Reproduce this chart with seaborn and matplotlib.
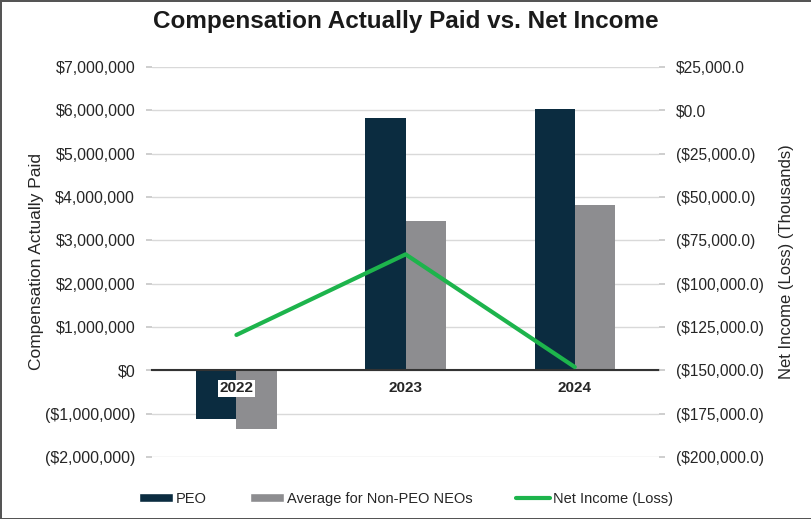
import matplotlib.pyplot as plt
import matplotlib.ticker as mticker
import numpy as np
import pandas as pd
import seaborn as sns
from matplotlib.patches import Patch
from matplotlib.lines import Line2D

# Data
years = ["2022", "2023", "2024"]
peo_cap = [-1130000, 5830000, 6040000]
non_peo_cap = [-1350000, 3450000, 3810000]
net_income = [-129600, -83100, -148100]  # thousands

peo_color = "#0b2c40"
non_peo_color = "#8d8d90"
line_color = "#1db44c"

sns.set_theme(style="white")
plt.rcParams["font.family"] = ["Liberation Sans", "DejaVu Sans"]

df = pd.DataFrame({
    "year": years * 2,
    "group": ["PEO"] * 3 + ["Average for Non-PEO NEOs"] * 3,
    "value": peo_cap + non_peo_cap,
})

fig = plt.figure(figsize=(8.12, 5.19), dpi=100)
fig.patch.set_edgecolor("#555555")
fig.patch.set_linewidth(2)
ax = fig.add_axes([0.187, 0.1195, 0.625, 0.7515])

sns.barplot(
    data=df, x="year", y="value", hue="group",
    palette=[peo_color, non_peo_color], width=0.475,
    saturation=1, ax=ax, legend=False,
)
for p in ax.patches:
    p.set_edgecolor("none")

ax.set_xlim(-0.5, 2.5)
ax.set_ylim(-2000000, 7000000)
ax.yaxis.set_major_locator(mticker.MultipleLocator(1000000))
ax.yaxis.set_major_formatter(mticker.FuncFormatter(
    lambda v, _: f"${v:,.0f}" if v >= 0 else f"(${-v:,.0f})"))
ax.grid(axis="y", color="#d9d9d9", linewidth=1)
ax.set_axisbelow(True)
for s in ["top", "left", "right"]:
    ax.spines[s].set_visible(False)
ax.spines["bottom"].set_position(("data", 0))
ax.spines["bottom"].set_color("#333333")
ax.spines["bottom"].set_linewidth(1.5)
ax.xaxis.set_zorder(5)
ax.tick_params(axis="x", length=0, pad=8, labelsize=11)
ax.tick_params(axis="y", left=True, length=4, color="#c8c8c8",
               labelsize=11.5, labelcolor="#262626", pad=8)
for lbl in ax.get_xticklabels():
    lbl.set_fontweight("bold")
    lbl.set_color("#262626")
    lbl.set_bbox(dict(facecolor="white", edgecolor="none", pad=1))
ax.set_xlabel("")
ax.set_ylabel("Compensation Actually Paid", fontsize=12.5, color="#262626")
ax.yaxis.set_label_coords(-0.212, 0.5)

ax2 = ax.twinx()
sns.lineplot(x=np.arange(len(years)), y=net_income, color=line_color,
             linewidth=3, ax=ax2)
ax2.set_ylim(-200000, 25000)
ax2.yaxis.set_major_locator(mticker.MultipleLocator(25000))
ax2.yaxis.set_major_formatter(mticker.FuncFormatter(
    lambda v, _: f"${v:,.1f}" if v >= 0 else f"(${-v:,.1f})"))
for s in ax2.spines.values():
    s.set_visible(False)
ax2.tick_params(axis="y", right=True, length=4, color="#c8c8c8",
                labelsize=11.2, labelcolor="#262626", pad=8)
ax2.set_ylabel("Net Income (Loss) (Thousands)", fontsize=12, color="#262626",
               rotation=90)
ax2.yaxis.set_label_coords(1.235, 0.5)

fig.suptitle("Compensation Actually Paid vs. Net Income", fontsize=17.5,
             fontweight="bold", color="#1a1a1a", y=0.98)

handles = [
    Patch(facecolor=peo_color, label="PEO"),
    Patch(facecolor=non_peo_color, label="Average for Non-PEO NEOs"),
    Line2D([0], [0], color=line_color, linewidth=3, label="Net Income (Loss)"),
]
fig.legend(handles=handles, loc="lower center", ncol=3, frameon=False,
           bbox_to_anchor=(0.5, 0.0), fontsize=10.5, handlelength=2.3,
           handleheight=0.6, columnspacing=3.0, handletextpad=0.2,
           labelcolor="#262626")

fig.savefig("out.png", dpi=100)
